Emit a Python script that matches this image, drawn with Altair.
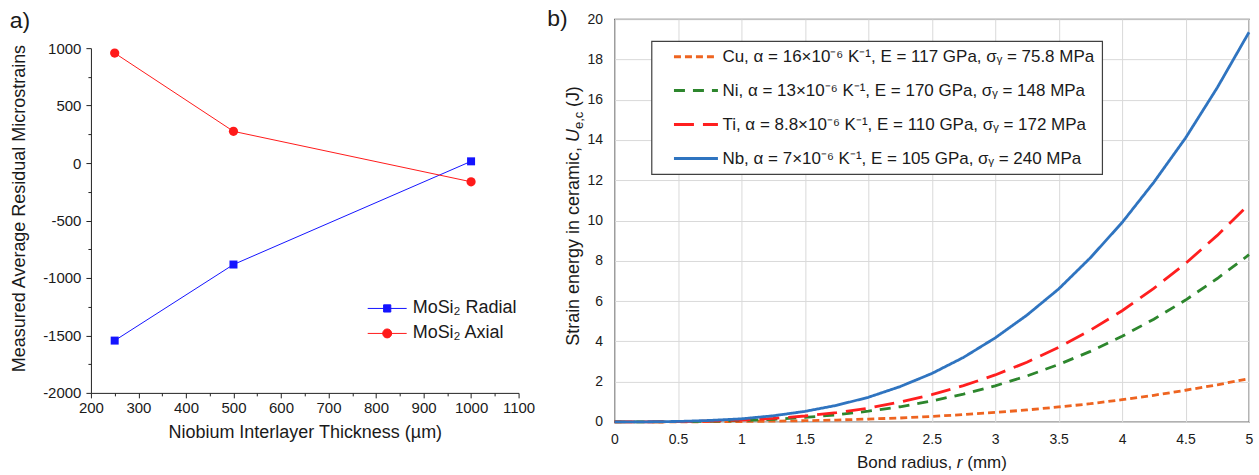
import altair as alt
import pandas as pd

# ---------------- Left panel (a) data ----------------
thickness = [250, 500, 1000]
radial = [-1545, -883, 15]
axial = [957, 276, -163]
left_series = ["MoSi₂ Radial", "MoSi₂ Axial"]
left_colors = ["#1414ff", "#ff1a1a"]
x_major = [200, 300, 400, 500, 600, 700, 800, 900, 1000, 1100]
x_minor = [250, 350, 450, 550, 650, 750, 850, 950, 1050]
y_major = [-2000, -1500, -1000, -500, 0, 500, 1000]
y_minor = [-1750, -1250, -750, -250, 250, 750]

# ---------------- Right panel (b) data ----------------
radius = [0, 0.25, 0.5, 0.75, 1, 1.25, 1.5, 1.75, 2, 2.25, 2.5, 2.75, 3,
          3.25, 3.5, 3.75, 4, 4.25, 4.5, 4.75, 5]
cu = [0, 0.0003, 0.002, 0.008, 0.017, 0.034, 0.058, 0.09, 0.14, 0.19, 0.27,
      0.36, 0.47, 0.59, 0.74, 0.9, 1.1, 1.32, 1.57, 1.84, 2.15]
ni = [0, 0.001, 0.008, 0.03, 0.066, 0.13, 0.22, 0.35, 0.53, 0.75, 1.04,
      1.38, 1.79, 2.28, 2.85, 3.5, 4.25, 5.1, 6.05, 7.12, 8.3]
ti = [0, 0.002, 0.01, 0.04, 0.085, 0.17, 0.29, 0.46, 0.68, 0.98, 1.35,
      1.8, 2.33, 2.96, 3.7, 4.55, 5.52, 6.63, 7.87, 9.26, 10.8]
nb = [0, 0.003, 0.02, 0.07, 0.15, 0.3, 0.52, 0.82, 1.22, 1.75, 2.4,
      3.2, 4.17, 5.3, 6.6, 8.15, 9.9, 11.9, 14.1, 16.6, 19.35]
right_series = [
    "Cu, α = 16×10⁻⁶ K⁻¹, E = 117 GPa, σᵧ = 75.8 MPa",
    "Ni, α = 13×10⁻⁶ K⁻¹, E = 170 GPa, σᵧ = 148 MPa",
    "Ti, α = 8.8×10⁻⁶ K⁻¹, E = 110 GPa, σᵧ = 172 MPa",
    "Nb, α = 7×10⁻⁶ K⁻¹, E = 105 GPa, σᵧ = 240 MPa",
]
right_colors = ["#ee6420", "#2d862d", "#ff1f1f", "#2f74c0"]
right_dashes = [[7, 4], [11, 8], [20, 9], [1, 0]]
r_ticks = [0, 0.5, 1, 1.5, 2, 2.5, 3, 3.5, 4, 4.5, 5]
u_ticks = [0, 2, 4, 6, 8, 10, 12, 14, 16, 18, 20]

FONT = "Liberation Sans"
TXT = "#1a1a1a"

# ---------------- Left chart ----------------
left_df = pd.DataFrame({
    "t": thickness * 2,
    "v": radial + axial,
    "s": [left_series[0]] * 3 + [left_series[1]] * 3,
})

xs_l = alt.Scale(domain=[200, 1100], nice=False, zero=False)
ys_l = alt.Scale(domain=[-2000, 1000], nice=False, zero=False)
col_l = alt.Scale(domain=left_series, range=left_colors)
legend_paths = ["M-1.95,0H1.95M-0.36,-0.36H0.36V0.36H-0.36Z",
                "M-1.95,0H1.95M0.45,0A0.45,0.45,0,1,1,-0.45,0A0.45,0.45,0,1,1,0.45,0Z"]

left_legend = alt.Legend(
    orient="none", legendX=286, legendY=279, title=None,
    labelFont=FONT, labelFontSize=18, labelColor=TXT, labelLimit=300,
    rowPadding=5, symbolSize=400, labelOffset=15, padding=0,
    symbolOpacity=1, symbolStrokeWidth=1,
    labelExpr="datum.index === 1 ? '\u00a0' + datum.label : datum.label",
)

x_axis_l = alt.Axis(values=x_major, orient="bottom", title="Niobium Interlayer Thickness (µm)",
                    titleFont=FONT, titleFontSize=18, titleFontWeight="normal", titleColor=TXT,
                    labelFont=FONT, labelFontSize=15, labelColor=TXT, labelPadding=3,
                    titlePadding=8, tickSize=5, tickColor="#222", domainColor="#222",
                    grid=False, labelFlush=False, labelExpr="datum.value + ''")
y_axis_l = alt.Axis(values=y_major, orient="left", title="Measured Average Residual Microstrains",
                    titleFont=FONT, titleFontSize=18, titleFontWeight="normal", titleColor=TXT,
                    labelFont=FONT, labelFontSize=15, labelColor=TXT, labelPadding=5,
                    titlePadding=14, titleY=160, tickSize=5, tickColor="#222", domainColor="#222",
                    grid=False, labelFlush=False, labelExpr="datum.value + ''")

X_l = alt.X("t:Q", scale=xs_l, axis=x_axis_l)
Y_l = alt.Y("v:Q", scale=ys_l, axis=y_axis_l)
Xn = alt.X("t:Q", scale=xs_l, axis=None)
Yn = alt.Y("v:Q", scale=ys_l, axis=None)
C_l = alt.Color("s:N", scale=col_l, legend=None)

left_lines = alt.Chart(left_df).mark_line(strokeWidth=1).encode(x=X_l, y=Y_l, color=C_l)
left_squares = alt.Chart(left_df).transform_filter(
    alt.datum.s == left_series[0]).mark_square(size=64, opacity=1).encode(x=Xn, y=Yn, color=C_l)
left_circles = alt.Chart(left_df).transform_filter(
    alt.datum.s == left_series[1]).mark_circle(size=85, opacity=1).encode(x=Xn, y=Yn, color=C_l)
# invisible layer that only carries the legend (line + marker symbols)
left_legend_layer = alt.Chart(left_df).mark_point(opacity=0, filled=True).encode(
    x=Xn, y=Yn,
    fill=alt.Fill("s:N", scale=col_l, legend=left_legend),
    stroke=alt.Stroke("s:N", scale=col_l, legend=left_legend),
    shape=alt.Shape("s:N", scale=alt.Scale(domain=left_series, range=legend_paths), legend=left_legend),
)
left_minor = alt.Chart(left_df).mark_point(opacity=0).encode(
    x=alt.X("t:Q", scale=xs_l, axis=alt.Axis(values=x_minor, orient="bottom", labels=False, title=None,
                                             domain=False, tickSize=3, tickColor="#222", grid=False)),
    y=alt.Y("v:Q", scale=ys_l, axis=alt.Axis(values=y_minor, orient="left", labels=False, title=None,
                                             domain=False, tickSize=3, tickColor="#222", grid=False)),
)
label_a = alt.Chart(pd.DataFrame({"lab": ["a)"]})).mark_text(
    font=FONT, fontSize=23, color=TXT, align="center", baseline="middle"
).encode(text="lab:N", x=alt.value(-71), y=alt.value(-27))

left = alt.layer(left_lines, left_squares, left_circles, left_legend_layer, left_minor, label_a).resolve_axis(
    x="independent", y="independent"
).properties(width=428, height=345, view=alt.ViewBackground(stroke="transparent"))

# ---------------- Right chart ----------------
right_df = pd.DataFrame({
    "r": radius * 4,
    "u": cu + ni + ti + nb,
    "m": sum([[s] * len(radius) for s in right_series], []),
})

right_legend = alt.Legend(
    orient="none", legendX=37, legendY=22, title=None,
    labelFont=FONT, labelFontSize=17, labelColor=TXT, labelLimit=600,
    symbolType="stroke", symbolSize=1936, symbolStrokeWidth=3, clipHeight=17,
    symbolOffset=14, labelOffset=3, rowPadding=16, padding=7,
    strokeColor="#404040", fillColor="white",
)

right_lines = alt.Chart(right_df).mark_line(strokeWidth=2.8).encode(
    x=alt.X("r:Q", scale=alt.Scale(domain=[0, 5], nice=False),
            axis=alt.Axis(values=r_ticks, grid=True, gridColor="#d9d9d9", ticks=False, domain=False,
                          labelFont=FONT, labelFontSize=14, labelColor=TXT, labelPadding=11,
                          title=None, labelFlush=False, labelExpr="datum.value + ''")),
    y=alt.Y("u:Q", scale=alt.Scale(domain=[0, 20], nice=False),
            axis=alt.Axis(values=u_ticks, grid=True, gridColor="#d9d9d9", ticks=False, domain=False,
                          labelFont=FONT, labelFontSize=14, labelColor=TXT, labelPadding=12,
                          title=None, labelExpr="datum.value + ''")),
    color=alt.Color("m:N", scale=alt.Scale(domain=right_series, range=right_colors), legend=right_legend),
    strokeDash=alt.StrokeDash("m:N", scale=alt.Scale(domain=right_series, range=right_dashes),
                              legend=right_legend),
)

def txt(s, x, y, size, angle=None, align="left", style="normal"):
    kw = dict(font=FONT, fontSize=size, color=TXT, align=align, baseline="middle", fontStyle=style)
    if angle is not None:
        kw["angle"] = angle
    return alt.Chart(pd.DataFrame({"lab": [s]})).mark_text(**kw).encode(
        text="lab:N", x=alt.value(x), y=alt.value(y))

right_texts = [
    txt("b)", -57, 0, 23, align="center"),
    # y title: Strain energy in ceramic, U_e,c (J)
    txt("Strain energy in ceramic,", -41, 128, 18, angle=270, align="right"),
    txt("U", -41, 123, 18, angle=270, align="left", style="italic"),
    txt("e,c", -36, 110, 13, angle=270, align="left"),
    txt("(J)", -41, 88, 18, angle=270, align="left"),
    # x title: Bond radius, r (mm)
    txt("Bond radius,", 338, 444, 17, align="right"),
    txt("r", 342.6, 444, 17, align="left", style="italic"),
    txt("(mm)", 353, 444, 17, align="left"),
]

right = alt.layer(right_lines, *right_texts).properties(
    width=635, height=403, view=alt.ViewBackground(stroke="#595959", strokeWidth=1.3)
)

chart = alt.hconcat(left, right, spacing=96, center=True, bounds="flush").resolve_scale(
    color="independent", strokeDash="independent"
).resolve_legend(
    color="independent", strokeDash="independent"
).properties(
    padding={"left": 9, "top": 7, "right": 3, "bottom": 3}, background="white"
).configure_legend(strokeWidth=1.2)

chart.save("out.html", embed_options={"renderer": "svg", "actions": False})
